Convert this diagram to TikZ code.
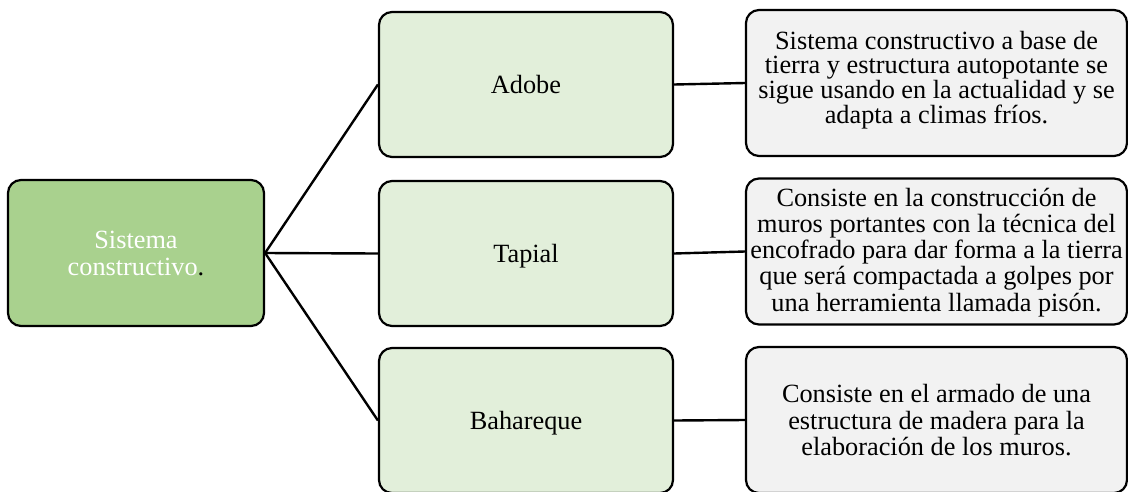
\documentclass[tikz,border=0pt]{standalone}
\usepackage{fontspec}
\setmainfont{Liberation Serif}
\definecolor{rootgreen}{HTML}{A9D18E}
\definecolor{midgreen}{HTML}{E2EFDA}
\definecolor{notegray}{HTML}{F2F2F2}
\begin{document}
\begin{tikzpicture}[x=1pt,y=-1pt,
  box/.style={draw=black, line width=2.2pt, rounded corners=13pt, inner sep=0pt},
  rootbox/.style={box, fill=rootgreen, minimum width=256pt, minimum height=146pt},
  midbox/.style={box, fill=midgreen, minimum width=294pt, minimum height=145pt,
    font=\fontsize{26.3}{29}\selectfont, text height=17.4pt, text depth=0pt},
  notebox/.style={box, fill=notegray, minimum width=381pt, minimum height=146pt},
  txt/.style={align=center, inner sep=0pt},
  link/.style={draw=black, line width=2.4pt}]
\useasboundingbox (0,0) rectangle (1128,491);

% root box
\node[rootbox] (root) at (136,253) {};
\node[txt, text=white, font=\fontsize{26.3}{27}\selectfont] (roottext) at (136,253.5)
  {Sistema\\constructivo\textcolor{black}{.}};

% middle column
\node[midbox] (adobe) at (526,84.5) {Adobe};
\node[midbox] (tapial) at (526,253.5) {Tapial};
\node[midbox] (bahar) at (526,420.5) {Bahareque};

% description boxes
\node[notebox] (n1) at (936.5,83) {};
\node[notebox] (n2) at (936.5,251.5) {};
\node[notebox] (n3) at (936.5,420) {};

\node[txt, font=\fontsize{26.3}{23.8}\selectfont] (n1text) at (936.5,80)
  {Sistema constructivo a base de\\tierra y estructura autopotante se\\sigue usando en la actualidad y se\\adapta a climas fríos.};
\node[txt, font=\fontsize{26.3}{26.2}\selectfont] (n2text) at (936.5,252.3)
  {Consiste en la construcción de\\muros portantes con la técnica del\\encofrado para dar forma a la tierra\\que será compactada a golpes por\\una herramienta llamada pisón.};
\node[txt, font=\fontsize{26.3}{26.6}\selectfont] (n3text) at (936.5,420.3)
  {Consiste en el armado de una\\estructura de madera para la\\elaboración de los muros.};

% connectors
\draw[link] (root.east) -- (adobe.west);
\draw[link] (root.east) -- (tapial.west);
\draw[link] (root.east) -- (bahar.west);
\draw[link] (adobe.east) -- (n1.west);
\draw[link] (tapial.east) -- (n2.west);
\draw[link] (bahar.east) -- (n3.west);
\end{tikzpicture}
\end{document}
